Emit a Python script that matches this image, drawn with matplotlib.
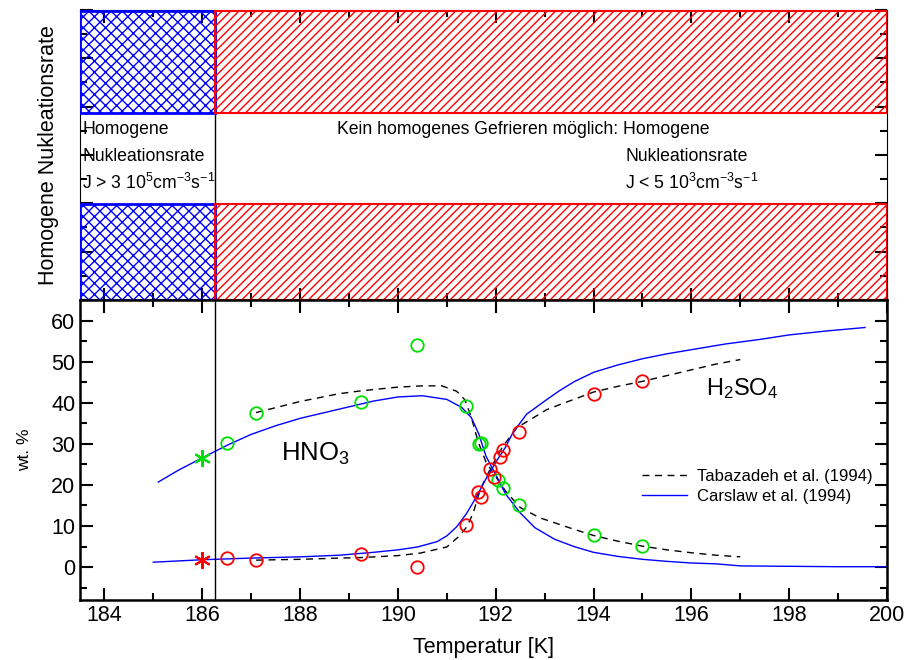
import numpy as np
import matplotlib
matplotlib.use("Agg")
import matplotlib.pyplot as plt
from matplotlib.patches import Rectangle
from matplotlib.ticker import MultipleLocator

plt.rcParams['font.family'] = ['Liberation Sans', 'DejaVu Sans']
plt.rcParams['mathtext.default'] = 'regular'
plt.rcParams['hatch.linewidth'] = 1.0

# measured points (circles)
hno3_T = [186.5, 187.1, 189.25, 190.4, 191.4, 191.65, 191.7, 192.05, 192.15, 192.47, 194.0, 195.0]
hno3_wt = [30.2, 37.6, 40.1, 54.0, 39.2, 30.0, 30.1, 21.2, 19.3, 15.1, 7.7, 5.1]
h2so4_T = [186.5, 187.1, 189.25, 190.4, 191.4, 191.64, 191.69, 191.88, 191.97, 192.08, 192.15, 192.47, 194.0, 195.0]
h2so4_wt = [2.2, 1.7, 3.2, 0.1, 10.2, 18.3, 17.1, 23.8, 22.0, 26.8, 28.4, 32.9, 42.1, 45.2]
# stars at 186 K
star_T = 186.0
star_hno3 = 26.6
star_h2so4 = 1.7

# Carslaw et al. (1994)
car_T = [185.1, 185.5, 186.0, 186.5, 187.0, 187.5, 188.0, 188.5, 189.0, 189.5, 190.0, 190.5,
         191.0, 191.3, 191.5, 191.65, 191.8, 192.0, 192.2, 192.5, 192.8, 193.2, 193.6, 194.0,
         194.5, 195.0, 195.5, 196.0, 196.5, 197.0, 198.0, 199.0, 200.0]
car_hno3 = [20.7, 23.5, 26.6, 29.6, 32.3, 34.4, 36.2, 37.6, 39.0, 40.4, 41.4, 41.7,
            40.8, 38.9, 36.4, 32.5, 27.0, 22.5, 17.8, 13.2, 9.6, 6.8, 5.0, 3.6,
            2.6, 1.9, 1.4, 1.0, 0.8, 0.3, 0.2, 0.1, 0.1]
car2_T = [185.0, 186.0, 187.0, 188.0, 188.8, 189.5, 190.0, 190.4, 190.8, 191.0, 191.2, 191.4,
          191.6, 191.8, 192.0, 192.2, 192.35, 192.63, 193.0, 193.3, 193.6, 194.0, 194.5, 195.0,
          195.5, 196.0, 196.7, 197.4, 198.0, 198.8, 199.55]
car_h2so4 = [1.2, 1.8, 2.2, 2.5, 2.9, 3.6, 4.2, 4.9, 6.2, 7.6, 9.8, 13.0,
             17.0, 21.5, 25.5, 29.2, 32.7, 37.2, 40.4, 42.9, 45.1, 47.4, 49.2, 50.7,
             51.9, 52.9, 54.3, 55.4, 56.5, 57.5, 58.3]

# Tabazadeh et al. (1994)
tab_T = [187.1, 188.0, 188.8, 189.25, 190.0, 190.5, 190.9, 191.2, 191.37, 191.5, 191.64, 191.8,
         192.0, 192.2, 192.5, 192.9, 193.25, 193.6, 194.0, 194.5, 195.0, 195.5, 196.0, 196.5, 197.0]
tab_hno3 = [37.6, 40.3, 42.2, 42.9, 43.8, 44.1, 44.1, 42.8, 40.7, 36.5, 30.5, 25.6,
            22.0, 18.5, 14.5, 12.0, 10.6, 9.2, 7.7, 6.3, 5.1, 4.2, 3.5, 2.9, 2.5]
tab2_T = [187.1, 188.0, 188.8, 189.2, 190.0, 190.45, 191.0, 191.23, 191.41, 191.54, 191.68, 191.88,
          192.14, 192.43, 193.04, 193.3, 194.0, 194.5, 195.0, 195.5, 196.0, 196.5, 197.0]
tab_h2so4 = [1.7, 1.9, 2.2, 2.3, 2.8, 3.4, 4.9, 7.3, 9.8, 13.2, 18.8, 23.7,
             29.3, 33.9, 38.3, 39.5, 42.6, 44.0, 45.2, 46.6, 48.0, 49.4, 50.5]

T_limit = 186.25

fig = plt.figure(figsize=(9.07, 6.6), dpi=100)
ax_top = fig.add_axes([0.0882, 0.5455, 0.8898, 0.4395])
ax = fig.add_axes([0.0882, 0.0909, 0.8898, 0.4546])

# ---- top panel: nucleation rate bands
ax_top.set_xlim(183.5, 200)
ax_top.set_ylim(0, 1)
for y0, h in [(0.645, 0.35), (0.0, 0.33)]:
    ax_top.add_patch(Rectangle((183.5, y0), T_limit - 183.5, h, facecolor='none',
                               edgecolor='blue', hatch='xxx', lw=2, zorder=3))
    ax_top.add_patch(Rectangle((T_limit, y0), 200 - T_limit, h, facecolor='none',
                               edgecolor='red', hatch='////', lw=1.5, zorder=3))
ax_top.axvline(T_limit, color='black', lw=1, zorder=2)
fs = 12.7
ax_top.text(183.55, 0.586, 'Homogene', fontsize=fs, va='center')
ax_top.text(183.55, 0.493, 'Nukleationsrate', fontsize=fs, va='center')
ax_top.text(183.55, 0.403, 'J > 3 10$^5$cm$^{-3}$s$^{-1}$', fontsize=fs, va='center')
ax_top.text(188.76, 0.586, u'Kein homogenes Gefrieren m\u00f6glich: Homogene', fontsize=fs, va='center')
ax_top.text(194.65, 0.493, 'Nukleationsrate', fontsize=fs, va='center')
ax_top.text(194.65, 0.403, 'J < 5 10$^3$cm$^{-3}$s$^{-1}$', fontsize=fs, va='center')
ax_top.set_ylabel('Homogene Nukleationsrate', fontsize=15.5, labelpad=15)
ax_top.xaxis.set_major_locator(MultipleLocator(2))
ax_top.xaxis.set_minor_locator(MultipleLocator(1))
ax_top.yaxis.set_major_locator(MultipleLocator(1 / 6))
ax_top.yaxis.set_minor_locator(MultipleLocator(1 / 12))
ax_top.tick_params(which='both', direction='in', top=True, right=True,
                   labelbottom=False, labelleft=False, width=1.5)
ax_top.tick_params(which='major', length=9)
ax_top.tick_params(which='minor', length=5)

# ---- bottom panel: composition
ax.plot(tab_T, tab_hno3, '--', color='black', lw=1, dashes=(5, 4), label='Tabazadeh et al. (1994)')
ax.plot(tab2_T, tab_h2so4, '--', color='black', lw=1, dashes=(5, 4))
ax.plot(car_T, car_hno3, '-', color='blue', lw=1, label='Carslaw et al. (1994)')
ax.plot(car2_T, car_h2so4, '-', color='blue', lw=1)
ax.plot(hno3_T, hno3_wt, 'o', mfc='none', mec='#00e000', ms=9, mew=1.3)
ax.plot(h2so4_T, h2so4_wt, 'o', mfc='none', mec='red', ms=9, mew=1.3)
ax.plot([star_T], [star_hno3], marker=(6, 2, 0), color='#00e000', ms=12, mew=1.5, ls='none')
ax.plot([star_T], [star_h2so4], marker=(6, 2, 0), color='red', ms=12, mew=1.5, ls='none')
ax.axvline(T_limit, color='black', lw=1)

ax.text(187.6, 27.5, 'HNO$_3$', fontsize=18.5, va='center')
ax.text(196.3, 43.5, 'H$_2$SO$_4$', fontsize=17, va='center')

ax.set_xlim(183.5, 200)
ax.set_ylim(-8, 65)
ax.xaxis.set_major_locator(MultipleLocator(2))
ax.xaxis.set_minor_locator(MultipleLocator(1))
ax.yaxis.set_major_locator(MultipleLocator(10))
ax.yaxis.set_minor_locator(MultipleLocator(5))
ax.tick_params(which='both', direction='in', top=True, right=True, width=1.5, labelsize=15.5)
ax.tick_params(which='major', length=9)
ax.tick_params(which='minor', length=5)
ax.set_xlabel('Temperatur [K]', fontsize=15.5, labelpad=8)
ax.set_ylabel('wt. %', fontsize=12.5, labelpad=14)
for sp in ax.spines.values():
    sp.set_linewidth(1.8)

ax.legend(loc='upper left', bbox_to_anchor=(0.678, 0.487), frameon=False, fontsize=12,
          handlelength=2.7, handletextpad=0.6, labelspacing=0.3)

fig.savefig('out.png', dpi=100)
